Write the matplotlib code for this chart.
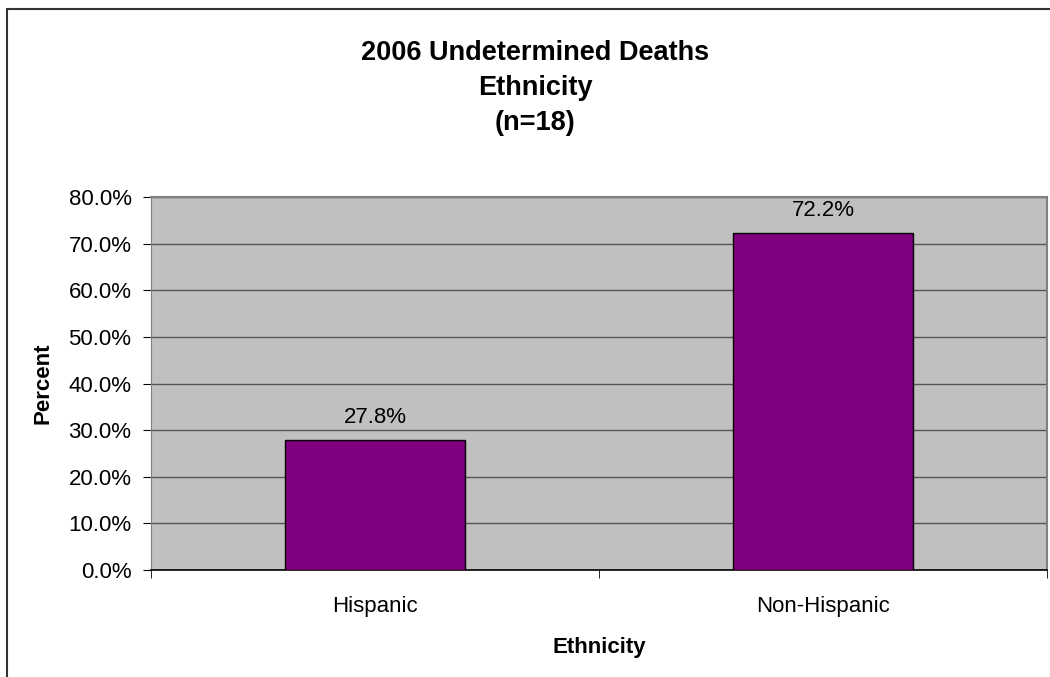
import matplotlib.pyplot as plt
from matplotlib.patches import Rectangle
from matplotlib.ticker import FuncFormatter, MultipleLocator

plt.rcParams["font.family"] = ["Liberation Sans", "DejaVu Sans"]

# chart data
categories = ["Hispanic", "Non-Hispanic"]
percents = [27.8, 72.2]
title_lines = ["2006 Undetermined Deaths", "Ethnicity", "(n=18)"]

W, H = 1050, 677
fig = plt.figure(figsize=(W / 100, H / 100), dpi=100)

# outer chart border (cut off at right/bottom as in the source)
fig.patches.append(Rectangle((7 / W, -0.05), 1.2, (H - 9) / H + 0.05,
                             transform=fig.transFigure, fill=False,
                             edgecolor="#333333", linewidth=1.5))

ax = fig.add_axes([151 / W, (H - 570) / H, 896 / W, 373 / H])
ax.set_facecolor("#c0c0c0")

x = list(range(len(categories)))
ax.bar(x, percents, width=0.4, color="#800080", edgecolor="black",
       linewidth=1.0, zorder=3)
for xi, v in zip(x, percents):
    ax.text(xi, v + 3.8, f"{v:.1f}%", ha="center", va="baseline", fontsize=16)

ax.set_xlim(-0.5, len(categories) - 0.5)
ax.set_ylim(0, 80)
ax.yaxis.set_major_locator(MultipleLocator(10))
ax.yaxis.set_major_formatter(FuncFormatter(lambda v, _: f"{v:.1f}%"))
ax.grid(axis="y", color="#555555", linewidth=1.0, zorder=1)
ax.set_axisbelow(True)

ax.set_xticks(x)
ax.set_xticklabels(categories, fontsize=16)
ax.tick_params(axis="x", length=0, pad=19)
# category boundary ticks
ax.set_xticks([-0.5, 0.5, 1.5], minor=True)
ax.tick_params(axis="x", which="minor", length=6, direction="out", color="black")
ax.tick_params(axis="y", labelsize=16, length=6, pad=8, direction="out",
               color="black")

for side in ("top", "right"):
    ax.spines[side].set_color("#808080")
    ax.spines[side].set_linewidth(1.5)
ax.spines["left"].set_color("#808080")
ax.spines["bottom"].set_color("black")
ax.spines["bottom"].set_linewidth(1.2)

ax.set_xlabel("Ethnicity", fontsize=16, fontweight="bold", va="baseline")
ax.xaxis.set_label_coords(0.5, -(653 - 570) / 373)
ax.set_ylabel("Percent", fontsize=16, fontweight="bold", va="center")
ax.yaxis.set_label_coords((43 - 151) / 896, 0.5)

for i, line in enumerate(title_lines):
    fig.text(535 / W, 1 - (60 + 35 * i) / H, line, ha="center", va="baseline",
             fontsize=19.5, fontweight="bold")

fig.savefig("out.png", dpi=100)
